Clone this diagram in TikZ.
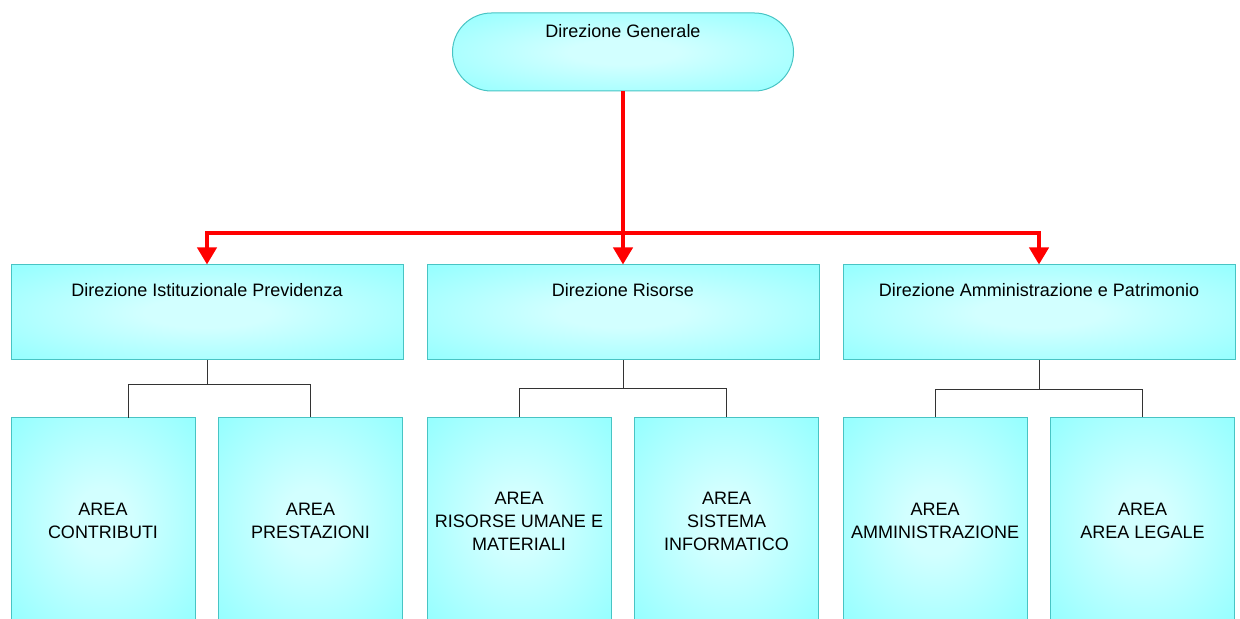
\documentclass[tikz,border=0pt]{standalone}
\usepackage{fontspec}
\setmainfont{Liberation Sans}
\usetikzlibrary{arrows.meta}

\definecolor{boxin}{RGB}{210,255,255}
\definecolor{boxout}{RGB}{138,255,255}
\definecolor{boxline}{RGB}{72,196,196}

\pgfdeclareradialshading{boxglow}{\pgfpoint{0bp}{0bp}}{color(0bp)=(boxin); color(8bp)=(boxin); color(40bp)=(boxout); color(50bp)=(boxout)}

\tikzset{
  box/.style={draw=boxline, line width=0.5pt, shading=boxglow, inner sep=0pt},
  dirbox/.style={box, minimum width=196pt, minimum height=47.5pt},
  areabox/.style={box, minimum width=92pt, minimum height=103pt, align=center},
  topbox/.style={box, minimum width=170.5pt, minimum height=39pt, rounded corners=19.5pt},
  toptext/.style={anchor=north, inner sep=0pt},
  redline/.style={draw=red, line width=2pt, -{Triangle[width=9.5pt,length=8.5pt]}},
  thinline/.style={draw=black!80, line width=0.5pt},
}

\begin{document}
\begin{tikzpicture}[x=0.5pt, y=-0.5pt, font=\fontsize{9}{11.5}\selectfont]

\useasboundingbox (0,0) rectangle (1240,619);
\clip (0,0) rectangle (1240,619);

\node(dg)[topbox, label={[name=dgt, toptext, yshift=-5.75pt]north:Direzione Generale}] at (623,52) {};

\node(dip)[dirbox, label={[name=dipt, toptext, yshift=-9.5pt]north:Direzione Istituzionale Previdenza}] at (207,312.5) {};
\node(dr)[dirbox, label={[name=drt, toptext, yshift=-9.5pt]north:Direzione Risorse}] at (623,312.5) {};
\node(dap)[dirbox, label={[name=dapt, toptext, yshift=-9.5pt]north:Direzione Amministrazione e Patrimonio}] at (1039,312.5) {};

\node(ac)[areabox] at (103,521) {AREA\\CONTRIBUTI};
\node(ap)[areabox] at (310.5,521) {AREA\\PRESTAZIONI};
\node(arum)[areabox] at (519,521) {AREA\\RISORSE UMANE E\\MATERIALI};
\node(asi)[areabox] at (726.5,521) {AREA\\SISTEMA\\INFORMATICO};
\node(aam)[areabox] at (935,521) {AREA\\AMMINISTRAZIONE};
\node(al)[areabox] at (1142.5,521) {AREA\\AREA LEGALE};

% red arrows
\coordinate(fork) at (623,233);
\draw[redline] (dg.south) -- (dr.north);
\draw[redline] (fork) -| (dip.north);
\draw[redline] (fork) -| (dap.north);

% thin connectors
\coordinate(j1) at (207,385);
\coordinate(j2) at (623,389);
\coordinate(j3) at (1039,390);
\coordinate(achook) at (128,418);

\draw[thinline] (dip.south) -- (j1) -| (achook);
\draw[thinline] (j1) -| (ap.north);
\draw[thinline] (dr.south) -- (j2) -| (arum.north);
\draw[thinline] (j2) -| (asi.north);
\draw[thinline] (dap.south) -- (j3) -| (aam.north);
\draw[thinline] (j3) -| (al.north);

\end{tikzpicture}
\end{document}
